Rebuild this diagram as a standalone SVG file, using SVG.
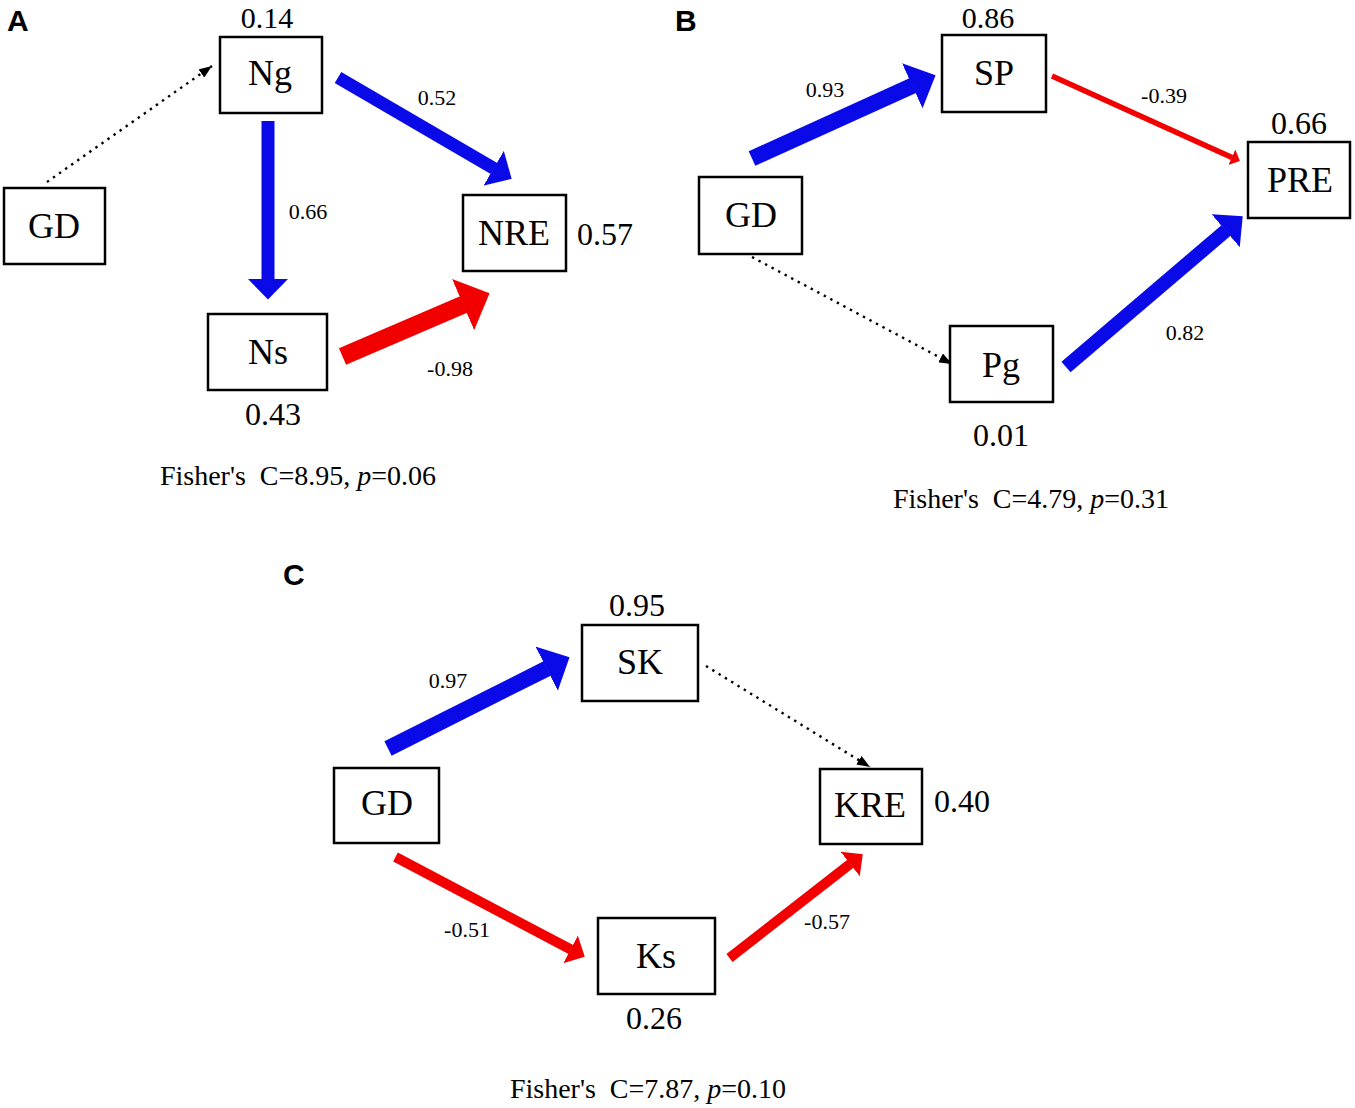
<svg xmlns="http://www.w3.org/2000/svg" width="1355" height="1108" viewBox="0 0 1355 1108">
<style>
.box{fill:#fff;stroke:#000;stroke-width:2.5}
.node{font-family:"Liberation Serif","Times New Roman",serif;font-size:36px;text-anchor:middle;fill:#000}
.r2{font-family:"Liberation Serif","Times New Roman",serif;font-size:32px;text-anchor:middle;fill:#000}
.top{font-size:30px}
.coef{font-family:"Liberation Serif","Times New Roman",serif;font-size:22px;text-anchor:middle;fill:#000}
.fisher{font-family:"Liberation Serif","Times New Roman",serif;font-size:28px;text-anchor:middle;fill:#000}
.panel{font-family:"Liberation Sans",Arial,sans-serif;font-size:30px;font-weight:bold;fill:#000}
.blue{stroke:#0a0ae8;fill:none;marker-end:url(#hb)}
.red{stroke:#f20000;fill:none;marker-end:url(#hr)}
.dot{stroke:#000;stroke-width:2.4;stroke-dasharray:2.4 5;fill:none;marker-end:url(#hk)}
</style>
<defs>
<marker id="hb" markerUnits="strokeWidth" markerWidth="1.6" markerHeight="3.1" viewBox="0 0 1.6 3.1" refX="0.03" refY="1.55" orient="auto"><path d="M0,0 L1.6,1.55 L0,3.1 Z" fill="#0a0ae8"/></marker>
<marker id="hr" markerUnits="strokeWidth" markerWidth="1.6" markerHeight="3.1" viewBox="0 0 1.6 3.1" refX="0.03" refY="1.55" orient="auto"><path d="M0,0 L1.6,1.55 L0,3.1 Z" fill="#f20000"/></marker>
<marker id="hk" markerUnits="userSpaceOnUse" markerWidth="13" markerHeight="10" viewBox="0 0 13 10" refX="13" refY="5" orient="auto"><path d="M0,0 L13,5 L0,10 Z" fill="#000"/></marker>
</defs>

<text class="panel" x="7" y="31">A</text>
<text class="panel" x="675" y="31">B</text>
<text class="panel" x="283" y="585">C</text>

<g id="connectors">
  <!-- Panel A -->
  <line class="dot" x1="47" y1="182" x2="212" y2="66"/>
  <line class="blue" x1="268" y1="121" x2="268" y2="279.2" stroke-width="13"/>
  <line class="blue" x1="338" y1="77.5" x2="494" y2="168.5" stroke-width="13"/>
  <line class="red" x1="342.5" y1="356.5" x2="463.6" y2="304.4" stroke-width="18"/>
  <!-- Panel B -->
  <line class="blue" x1="752" y1="158.5" x2="912.7" y2="85.6" stroke-width="16"/>
  <line class="red" x1="1052" y1="76" x2="1232" y2="157.4" stroke-width="5.5"/>
  <line class="blue" x1="1066" y1="367" x2="1226" y2="230.5" stroke-width="14"/>
  <line class="dot" x1="752" y1="257" x2="952" y2="364"/>
  <!-- Panel C -->
  <line class="blue" x1="388" y1="748.5" x2="547.1" y2="668.5" stroke-width="16"/>
  <line class="red" x1="395.5" y1="857" x2="570.9" y2="949.5" stroke-width="10"/>
  <line class="red" x1="729.5" y1="958" x2="850.4" y2="863.8" stroke-width="10"/>
  <line class="dot" x1="706" y1="666" x2="870" y2="767"/>
</g>

<g id="labels">
  <text class="coef" x="437" y="105">0.52</text>
  <text class="coef" x="308" y="219">0.66</text>
  <text class="coef" x="450" y="376">-0.98</text>
  <text class="coef" x="825" y="97">0.93</text>
  <text class="coef" x="1164" y="103">-0.39</text>
  <text class="coef" x="1185" y="340">0.82</text>
  <text class="coef" x="448" y="688">0.97</text>
  <text class="coef" x="467" y="937">-0.51</text>
  <text class="coef" x="827" y="929">-0.57</text>
</g>

<!-- Panel A nodes -->
<g id="A-Ng">
  <rect class="box" x="220" y="37" width="102" height="76"/>
  <text class="node" x="270" y="85">Ng</text>
  <text class="r2 top" x="267" y="28">0.14</text>
</g>
<g id="A-GD">
  <rect class="box" x="4" y="188" width="101" height="76"/>
  <text class="node" x="54" y="238">GD</text>
</g>
<g id="A-NRE">
  <rect class="box" x="463" y="195" width="103" height="76"/>
  <text class="node" x="514" y="245">NRE</text>
  <text class="r2" x="605" y="245">0.57</text>
</g>
<g id="A-Ns">
  <rect class="box" x="208" y="314" width="119" height="76"/>
  <text class="node" x="268" y="364">Ns</text>
  <text class="r2" x="273" y="425">0.43</text>
</g>
<text class="fisher" x="298" y="485" xml:space="preserve">Fisher's  C=8.95, <tspan font-style="italic">p</tspan>=0.06</text>

<!-- Panel B nodes -->
<g id="B-SP">
  <rect class="box" x="942" y="35" width="104" height="77"/>
  <text class="node" x="994" y="85">SP</text>
  <text class="r2 top" x="988" y="28">0.86</text>
</g>
<g id="B-GD">
  <rect class="box" x="699" y="177" width="103" height="77"/>
  <text class="node" x="751" y="227">GD</text>
</g>
<g id="B-PRE">
  <rect class="box" x="1248" y="142" width="102" height="76"/>
  <text class="node" x="1300" y="192">PRE</text>
  <text class="r2" x="1299" y="134">0.66</text>
</g>
<g id="B-Pg">
  <rect class="box" x="950" y="326" width="103" height="76"/>
  <text class="node" x="1001" y="377">Pg</text>
  <text class="r2" x="1001" y="446">0.01</text>
</g>
<text class="fisher" x="1031" y="508" xml:space="preserve">Fisher's  C=4.79, <tspan font-style="italic">p</tspan>=0.31</text>

<!-- Panel C nodes -->
<g id="C-SK">
  <rect class="box" x="582" y="625" width="116" height="76"/>
  <text class="node" x="640" y="674">SK</text>
  <text class="r2" x="637" y="616">0.95</text>
</g>
<g id="C-GD">
  <rect class="box" x="334" y="768" width="105" height="75"/>
  <text class="node" x="387" y="815">GD</text>
</g>
<g id="C-KRE">
  <rect class="box" x="820" y="769" width="102" height="75"/>
  <text class="node" x="870" y="817">KRE</text>
  <text class="r2" x="962" y="812">0.40</text>
</g>
<g id="C-Ks">
  <rect class="box" x="598" y="918" width="117" height="76"/>
  <text class="node" x="656" y="968">Ks</text>
  <text class="r2" x="654" y="1029">0.26</text>
</g>
<text class="fisher" x="648" y="1098" xml:space="preserve">Fisher's  C=7.87, <tspan font-style="italic">p</tspan>=0.10</text>
</svg>
